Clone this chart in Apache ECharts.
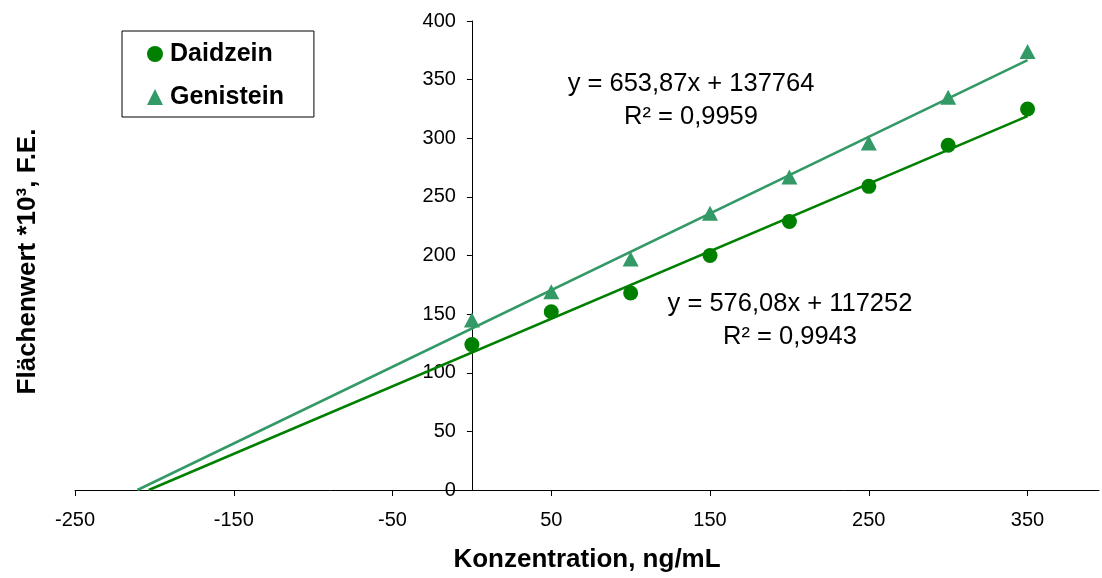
<!DOCTYPE html>
<html>
<head>
<meta charset="utf-8">
<script src="https://cdn.jsdelivr.net/npm/echarts@6/dist/echarts.min.js"></script>
<style>
html,body{margin:0;padding:0;background:#fff;}
#chart{width:1102px;height:578px;}
</style>
</head>
<body>
<div id="chart"></div>
<script>
// Concentrations (ng/mL)
const concentrations = [0, 50, 100, 150, 200, 250, 300, 350];
// Peak area *10^3
const daidzein  = [124, 152, 168, 200, 229, 259, 294, 325];
const genistein = [145, 169, 197, 236, 267, 296, 335, 374];
// Trendline equations as printed (raw area units): [slope, intercept]
const daidzeinFit  = [576.08, 117252];
const genisteinFit = [653.87, 137764];
const daidzeinFitText  = ['y = 576,08x + 117252', 'R² = 0,9943'];
const genisteinFitText = ['y = 653,87x + 137764', 'R² = 0,9959'];
// Axis ticks
const xTicks = [-250, -150, -50, 50, 150, 250, 350];
const yTicks = [0, 50, 100, 150, 200, 250, 300, 350, 400];

const FONT = "'Liberation Sans', Arial, Helvetica, sans-serif";
const C_DAI = '#008000';
const C_GEN = '#339966';
const GRID_LEFT = 75;

function pts(vals) { return concentrations.map((c, i) => [c, vals[i]]); }
// Excel trendline: backward forecast to y = 0, forward to last x
function trend(fit) {
  const m = fit[0] / 1000, b = fit[1] / 1000;
  const xEnd = concentrations[concentrations.length - 1];
  return [[-b / m, 0], [xEnd, m * xEnd + b]];
}

const chart = echarts.init(document.getElementById('chart'), null, {renderer: 'canvas'});
const axisLineStyle = {color: '#000', width: 1};
const annFont = '25.5px ' + FONT;

chart.setOption({
  backgroundColor: '#fff',
  animation: false,
  textStyle: {fontFamily: FONT},
  grid: {left: GRID_LEFT, right: 3, top: 21, bottom: 88},
  xAxis: {
    type: 'value', min: -250, max: 395, interval: 100,
    name: 'Konzentration, ng/mL', nameLocation: 'middle', nameGap: 57,
    nameTextStyle: {fontFamily: FONT, fontSize: 26, fontWeight: 'bold', color: '#000'},
    axisLine: {onZero: false, lineStyle: axisLineStyle},
    axisTick: {show: true, length: 6, customValues: xTicks, lineStyle: axisLineStyle},
    axisLabel: {customValues: xTicks, margin: 20, fontSize: 20, color: '#000', fontFamily: FONT},
    splitLine: {show: false}
  },
  yAxis: [{
    type: 'value', min: 0, max: 400, interval: 50, position: 'left', offset: 0,
    axisLine: {show: true, onZero: false, lineStyle: axisLineStyle},
    axisTick: {show: true, length: 5, customValues: yTicks, lineStyle: axisLineStyle},
    axisLabel: {customValues: yTicks, margin: 16, fontSize: 20, color: '#000', fontFamily: FONT},
    splitLine: {show: false}
  }, {
    type: 'value', min: 0, max: 400, position: 'left',
    name: 'Flächenwert *10³, F.E.', nameLocation: 'middle', nameGap: 34,
    nameTextStyle: {fontFamily: FONT, fontSize: 26, fontWeight: 'bold', color: '#000', padding: [0, 12, 0, 0]},
    axisLine: {show: false, onZero: false}, axisTick: {show: false},
    axisLabel: {show: false}, splitLine: {show: false}
  }],
  legend: {
    data: [{name: 'Daidzein', icon: 'circle'}, {name: 'Genistein', icon: 'triangle'}],
    orient: 'vertical', left: 122, top: 31,
    itemWidth: 16, itemHeight: 16, itemGap: 17,
    padding: [10, 30, 7, 25],
    borderColor: '#000', borderWidth: 1, backgroundColor: '#fff',
    textStyle: {fontFamily: FONT, fontSize: 25, fontWeight: 'bold', color: '#000', lineHeight: 26, padding: [0, 0, 0, 2]}
  },
  series: [
    {name: 'Daidzein Trend', type: 'line', data: trend(daidzeinFit), symbol: 'none',
     lineStyle: {color: C_DAI, width: 2.5}, z: 2, silent: true},
    {name: 'Genistein Trend', type: 'line', data: trend(genisteinFit), symbol: 'none',
     lineStyle: {color: C_GEN, width: 2.5}, z: 2, silent: true},
    {name: 'Daidzein', type: 'scatter', data: pts(daidzein), symbol: 'circle', symbolSize: 15,
     itemStyle: {color: C_DAI, opacity: 1}, z: 3},
    {name: 'Genistein', type: 'scatter', data: pts(genistein), symbol: 'triangle', symbolSize: [16, 15],
     itemStyle: {color: C_GEN, opacity: 1}, z: 3}
  ],
  graphic: [
    {type: 'text', x: 691, y: 84, style: {text: genisteinFitText[0], font: annFont, fill: '#000', textAlign: 'center', textVerticalAlign: 'middle'}},
    {type: 'text', x: 691, y: 117, style: {text: genisteinFitText[1], font: annFont, fill: '#000', textAlign: 'center', textVerticalAlign: 'middle'}},
    {type: 'text', x: 790, y: 304, style: {text: daidzeinFitText[0], font: annFont, fill: '#000', textAlign: 'center', textVerticalAlign: 'middle'}},
    {type: 'text', x: 790, y: 337, style: {text: daidzeinFitText[1], font: annFont, fill: '#000', textAlign: 'center', textVerticalAlign: 'middle'}}
  ]
});

// Move the value axis to cross the x axis at x = 0 (position from the library's own scale)
const zeroPx = chart.convertToPixel({xAxisIndex: 0}, 0);
chart.setOption({yAxis: [{offset: -(zeroPx - GRID_LEFT)}, {}]});
</script>
</body>
</html>
